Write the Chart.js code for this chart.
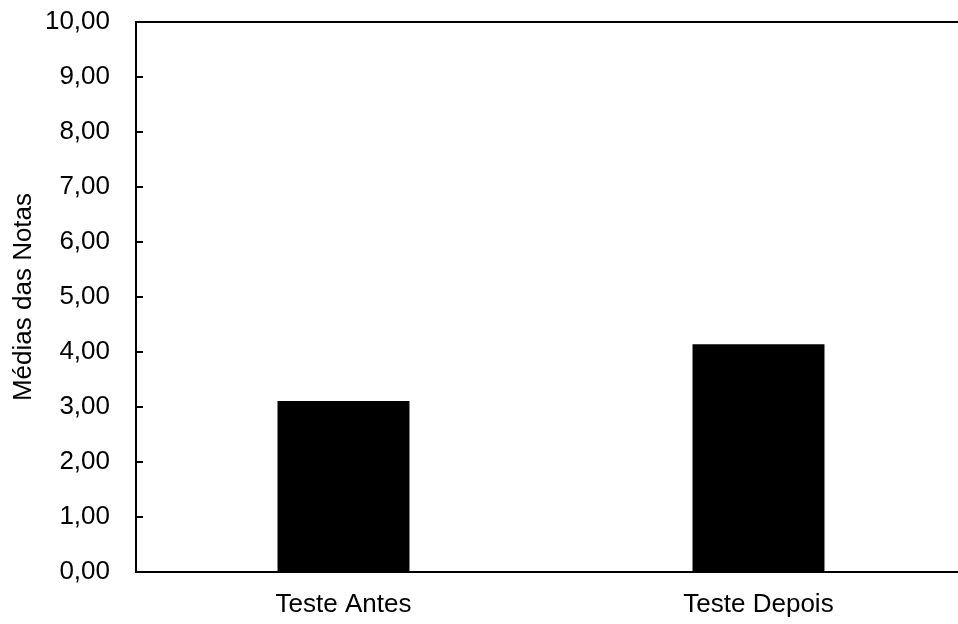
<!DOCTYPE html>
<html>
<head>
<meta charset="utf-8">
<script src="https://cdn.jsdelivr.net/npm/chart.js@4"></script>
<style>
  html, body { margin: 0; padding: 0; background: #fff; overflow: hidden; }
  .wrap { width: 968px; height: 624px; }
</style>
</head>
<body>
<div class="wrap"><canvas id="chart"></canvas></div>
<script>
// Data
const categories = ['Teste Antes', 'Teste Depois'];
const mediaNotas = [3.11, 4.14];
const yTitle = 'Médias das Notas';

// Frame: top border line + inward tick marks on the y axis
const framePlugin = {
  id: 'frame',
  afterDraw(chart) {
    const ctx = chart.ctx;
    const area = chart.chartArea;
    const y = chart.scales.y;
    ctx.save();
    ctx.strokeStyle = '#000';
    ctx.lineWidth = 2;
    ctx.beginPath();
    ctx.moveTo(area.left - 1, area.top);
    ctx.lineTo(area.right, area.top);
    y.ticks.forEach(function(t) {
      const py = Math.round(y.getPixelForValue(t.value));
      ctx.moveTo(area.left, py);
      ctx.lineTo(area.left + 7, py);
    });
    ctx.stroke();
    ctx.restore();
  }
};

const font = { family: '"Liberation Sans", Arial, sans-serif', size: 26 };

new Chart(document.getElementById('chart'), {
  type: 'bar',
  data: {
    labels: categories,
    datasets: [{
      data: mediaNotas,
      backgroundColor: '#000',
      borderWidth: 0,
      categoryPercentage: 1,
      barPercentage: 0.318
    }]
  },
  options: {
    responsive: true,
    maintainAspectRatio: false,
    animation: false,
    layout: { padding: { top: 22, right: 2, left: 0, bottom: 0 } },
    plugins: {
      legend: { display: false },
      tooltip: { enabled: false }
    },
    scales: {
      x: {
        grid: { display: false, drawTicks: false },
        border: { display: true, color: '#000', width: 2 },
        ticks: { color: '#000', font: font, padding: 17, maxRotation: 0 },
        afterFit: function(scale) {
          scale.height = 52;
          scale.paddingLeft = 0;
          scale.paddingRight = 0;
        }
      },
      y: {
        min: 0,
        max: 10,
        grid: { display: false, drawTicks: false },
        border: { display: true, color: '#000', width: 2 },
        ticks: {
          stepSize: 1,
          color: '#000',
          font: font,
          padding: 26,
          callback: function(v) { return v.toFixed(2).replace('.', ','); }
        },
        title: {
          display: true,
          text: yTitle,
          color: '#000',
          font: font,
          padding: { top: 8, bottom: 0 }
        },
        afterFit: function(scale) {
          scale.width = 136;
          scale.paddingTop = 0;
          scale.paddingBottom = 0;
        }
      }
    }
  },
  plugins: [framePlugin]
});
</script>
</body>
</html>
